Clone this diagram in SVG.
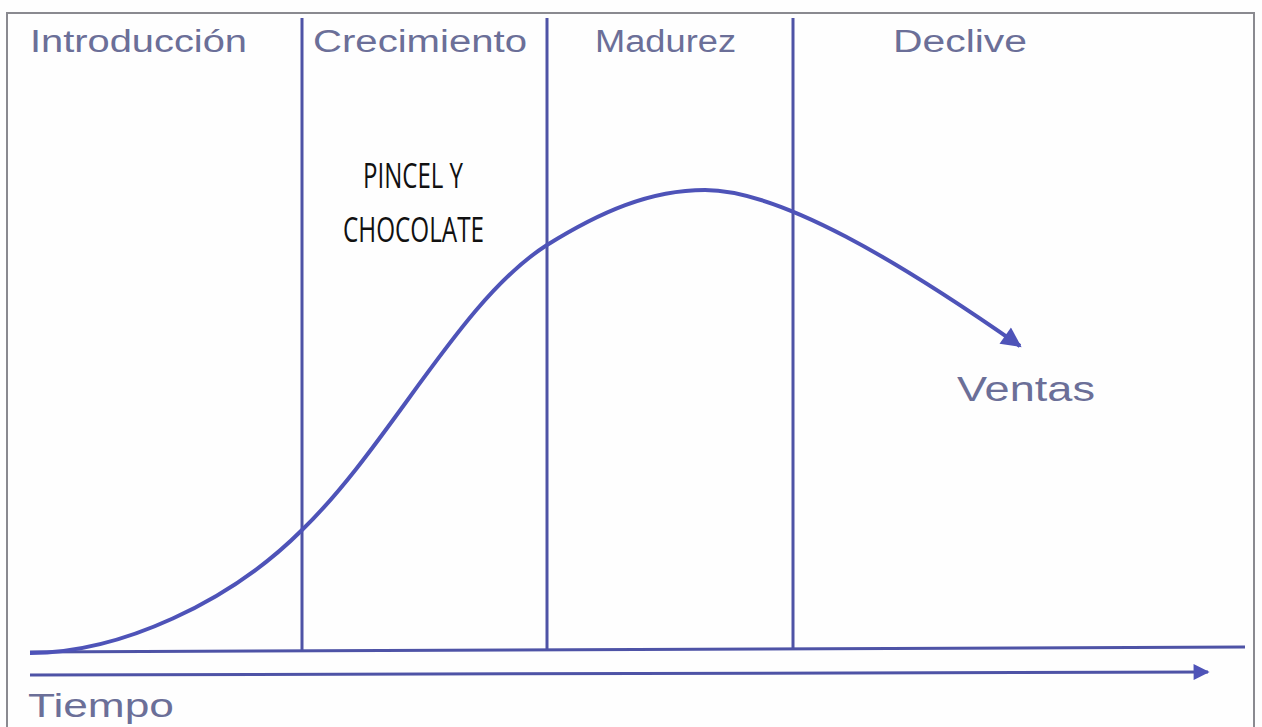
<svg xmlns="http://www.w3.org/2000/svg" width="1262" height="727" viewBox="0 0 1262 727">
<defs>
<style>
.lbl{font-family:"Liberation Sans",Arial,sans-serif;font-size:31px;fill:#6b6f98}
.ln{stroke:#4e53a6;stroke-width:3;fill:none}
.note{font-family:"Open Sans","Liberation Sans",sans-serif;font-size:35px;fill:#111}
</style>
<marker id="ah2" viewBox="0 0 10 10" refX="9" refY="5" markerWidth="23" markerHeight="16" markerUnits="userSpaceOnUse" orient="auto">
<path d="M0,0 L10,5 L0,10 z" fill="#4e53b8"/>
</marker>
<marker id="ah3" viewBox="0 0 10 10" refX="9" refY="5" markerWidth="24" markerHeight="20" markerUnits="userSpaceOnUse" orient="auto">
<path d="M0,0 L10,5 L0,10 z" fill="#4e53b8"/>
</marker>
</defs>
<rect width="1262" height="727" fill="#fefefe"/>
<rect x="7" y="13" width="1247" height="716" fill="none" stroke="#8a8a90" stroke-width="2"/>
<g id="phases">
<text class="lbl" x="30" y="52" textLength="217" lengthAdjust="spacingAndGlyphs">Introducción</text>
<text class="lbl" x="313" y="52" textLength="214" lengthAdjust="spacingAndGlyphs">Crecimiento</text>
<text class="lbl" x="595" y="52" textLength="141" lengthAdjust="spacingAndGlyphs">Madurez</text>
<text class="lbl" x="893" y="52" textLength="134" lengthAdjust="spacingAndGlyphs">Declive</text>
</g>
<g id="connectors">
<line class="ln" x1="302" y1="18" x2="302" y2="651"/>
<line class="ln" x1="547" y1="18" x2="547" y2="650"/>
<line class="ln" x1="793" y1="18" x2="793" y2="649"/>
<line class="ln" x1="30" y1="652" x2="1245" y2="647"/>
<line class="ln" x1="30" y1="675" x2="1208" y2="672" marker-end="url(#ah2)"/>
<path d="M30,653 C120,653 230,602 302,530 C390,445 460,300 547,245 C600,212 650,190 705,190 C780,190 900,262 1020,346" stroke="#4e53b8" stroke-width="4" fill="none" marker-end="url(#ah3)"/>
</g>
<g id="note">
<text class="note" x="363" y="188" textLength="100" lengthAdjust="spacingAndGlyphs">PINCEL Y</text>
<text class="note" x="343" y="242" textLength="141" lengthAdjust="spacingAndGlyphs">CHOCOLATE</text>
</g>
<g id="ventas">
<text class="lbl" x="957" y="401" style="font-size:35px" textLength="138" lengthAdjust="spacingAndGlyphs">Ventas</text>
</g>
<g id="tiempo">
<text class="lbl" x="28" y="717" style="font-size:33px" textLength="146" lengthAdjust="spacingAndGlyphs">Tiempo</text>
</g>
</svg>
